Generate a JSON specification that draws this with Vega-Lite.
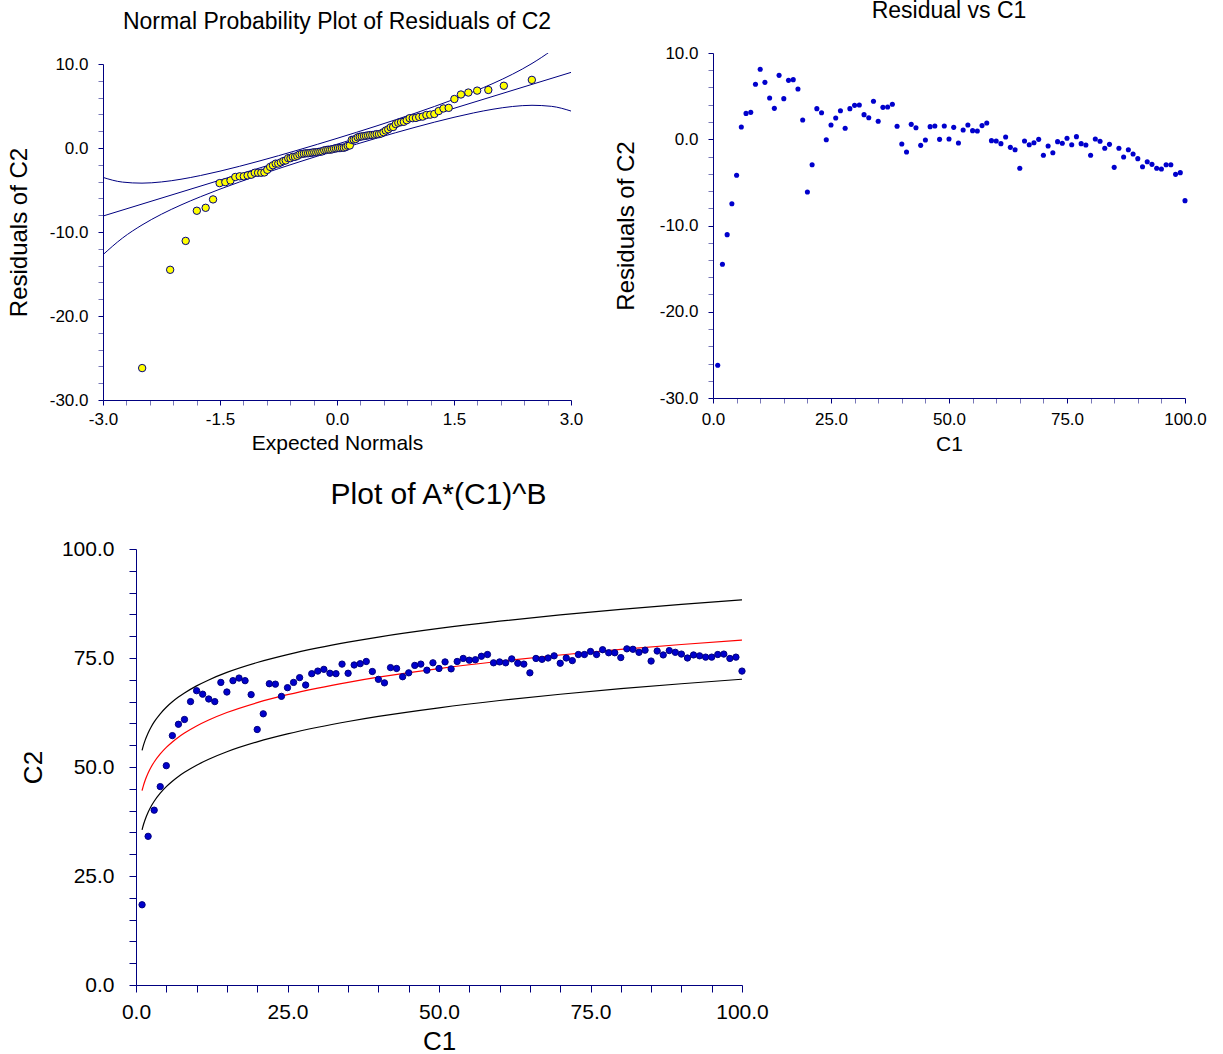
{
  "$schema": "https://vega.github.io/schema/vega-lite/v6.json",
  "padding": {"left": 7, "top": 0, "right": 5, "bottom": 0},
  "background": "white",
  "config": {
    "view": {"stroke": null},
    "font": "Liberation Sans",
    "axis": {"grid": false, "domainColor": "#000080", "domainWidth": 1, "tickWidth": 1, "labelColor": "black", "titleColor": "black", "labelFont": "Liberation Sans", "titleFont": "Liberation Sans", "titleFontWeight": "normal", "labelOverlap": false, "labelFlush": false, "labelBound": false},
    "title": {"fontWeight": "normal", "font": "Liberation Sans", "color": "black", "frame": "group", "anchor": "middle"}
  },
  "datasets": {
    "resid": [
      {"C1":1,"C2":18.4,"res":-26.2},{"C1":2,"C2":34.1,"res":-14.5},{"C1":3,"C2":40.1,"res":-11.06},{"C1":4,"C2":45.5,"res":-7.47},{"C1":5,"C2":50.3,"res":-4.18},
      {"C1":6,"C2":57.2,"res":1.42},{"C1":7,"C2":59.8,"res":3.0},{"C1":8,"C2":60.9,"res":3.12},{"C1":9,"C2":65.0,"res":6.37},{"C1":10,"C2":67.5,"res":8.11},
      {"C1":11,"C2":66.7,"res":6.6},{"C1":12,"C2":65.6,"res":4.78},{"C1":13,"C2":65.0,"res":3.58},{"C1":14,"C2":69.4,"res":7.41},{"C1":15,"C2":67.2,"res":4.71},
      {"C1":16,"C2":69.8,"res":6.83},{"C1":17,"C2":70.4,"res":6.91},{"C1":18,"C2":69.8,"res":5.83},{"C1":19,"C2":66.6,"res":2.23},{"C1":20,"C2":58.6,"res":-6.12},
      {"C1":21,"C2":62.2,"res":-2.95},{"C1":22,"C2":69.1,"res":3.55},{"C1":23,"C2":69.0,"res":3.08},{"C1":24,"C2":66.2,"res":-0.05},{"C1":25,"C2":68.2,"res":1.65},
      {"C1":26,"C2":69.4,"res":2.46},{"C1":27,"C2":70.5,"res":3.31},{"C1":28,"C2":68.8,"res":1.27},{"C1":29,"C2":71.4,"res":3.55},{"C1":30,"C2":72.0,"res":3.93},
      {"C1":31,"C2":72.4,"res":3.97},{"C1":32,"C2":71.5,"res":2.85},{"C1":33,"C2":71.4,"res":2.5},{"C1":34,"C2":73.6,"res":4.4},{"C1":35,"C2":71.5,"res":2.08},
      {"C1":36,"C2":73.4,"res":3.7},{"C1":37,"C2":73.7,"res":3.74},{"C1":38,"C2":74.2,"res":4.05},{"C1":39,"C2":71.9,"res":1.5},{"C1":40,"C2":70.1,"res":-0.55},
      {"C1":41,"C2":69.3,"res":-1.48},{"C1":42,"C2":72.8,"res":1.73},{"C1":43,"C2":72.6,"res":1.34},{"C1":44,"C2":70.7,"res":-0.71},{"C1":45,"C2":71.6,"res":-0.09},
      {"C1":46,"C2":73.3,"res":1.46},{"C1":47,"C2":73.6,"res":1.54},{"C1":48,"C2":72.2,"res":-0.01},{"C1":49,"C2":73.9,"res":1.54},{"C1":50,"C2":72.6,"res":0.03},
      {"C1":51,"C2":74.1,"res":1.38},{"C1":52,"C2":72.5,"res":-0.43},{"C1":53,"C2":74.2,"res":1.07},{"C1":54,"C2":74.9,"res":1.65},{"C1":55,"C2":74.5,"res":1.0},
      {"C1":56,"C2":74.6,"res":0.96},{"C1":57,"C2":75.4,"res":1.58},{"C1":58,"C2":75.8,"res":1.88},{"C1":59,"C2":73.9,"res":-0.16},{"C1":60,"C2":74.1,"res":-0.2},
      {"C1":61,"C2":73.9,"res":-0.51},{"C1":62,"C2":74.8,"res":0.26},{"C1":63,"C2":73.8,"res":-0.94},{"C1":64,"C2":73.6,"res":-1.21},{"C1":65,"C2":71.6,"res":-3.37},
      {"C1":66,"C2":74.9,"res":-0.2},{"C1":67,"C2":74.7,"res":-0.63},{"C1":68,"C2":75.0,"res":-0.4},{"C1":69,"C2":75.5,"res":-0.01},{"C1":70,"C2":73.8,"res":-1.86},
      {"C1":71,"C2":75.0,"res":-0.78},{"C1":72,"C2":74.4,"res":-1.56},{"C1":73,"C2":75.8,"res":-0.28},{"C1":74,"C2":75.8,"res":-0.47},{"C1":75,"C2":76.5,"res":0.11},
      {"C1":76,"C2":75.8,"res":-0.63},{"C1":77,"C2":76.9,"res":0.3},{"C1":78,"C2":76.2,"res":-0.51},{"C1":79,"C2":76.2,"res":-0.67},{"C1":80,"C2":75.1,"res":-1.86},
      {"C1":81,"C2":77.1,"res":0.03},{"C1":82,"C2":77.0,"res":-0.24},{"C1":83,"C2":76.3,"res":-1.05},{"C1":84,"C2":76.8,"res":-0.59},{"C1":85,"C2":74.3,"res":-3.26},
      {"C1":86,"C2":76.6,"res":-1.05},{"C1":87,"C2":75.7,"res":-2.06},{"C1":88,"C2":76.7,"res":-1.21},{"C1":89,"C2":76.3,"res":-1.71},{"C1":90,"C2":75.9,"res":-2.25},
      {"C1":91,"C2":75.0,"res":-3.18},{"C1":92,"C2":75.7,"res":-2.6},{"C1":93,"C2":75.5,"res":-2.91},{"C1":94,"C2":75.2,"res":-3.37},{"C1":95,"C2":75.2,"res":-3.45},
      {"C1":96,"C2":75.8,"res":-2.95},{"C1":97,"C2":75.9,"res":-2.95},{"C1":98,"C2":74.9,"res":-4.07},{"C1":99,"C2":75.2,"res":-3.87},{"C1":100,"C2":72.0,"res":-7.12}
    ],
    "npp": [
      {"z":-2.498,"v":-26.2},{"z":-2.139,"v":-14.5},{"z":-1.94,"v":-11.06},{"z":-1.797,"v":-7.47},{"z":-1.684,"v":-7.12},
      {"z":-1.589,"v":-6.12},{"z":-1.505,"v":-4.18},{"z":-1.432,"v":-4.07},{"z":-1.365,"v":-3.87},{"z":-1.304,"v":-3.45},
      {"z":-1.248,"v":-3.37},{"z":-1.195,"v":-3.37},{"z":-1.146,"v":-3.26},{"z":-1.099,"v":-3.18},{"z":-1.054,"v":-2.95},
      {"z":-1.012,"v":-2.95},{"z":-0.971,"v":-2.95},{"z":-0.931,"v":-2.91},{"z":-0.894,"v":-2.6},{"z":-0.857,"v":-2.25},
      {"z":-0.821,"v":-2.06},{"z":-0.786,"v":-1.86},{"z":-0.753,"v":-1.86},{"z":-0.72,"v":-1.71},{"z":-0.688,"v":-1.56},
      {"z":-0.657,"v":-1.48},{"z":-0.626,"v":-1.21},{"z":-0.596,"v":-1.21},{"z":-0.567,"v":-1.05},{"z":-0.538,"v":-1.05},
      {"z":-0.509,"v":-0.94},{"z":-0.481,"v":-0.78},{"z":-0.453,"v":-0.71},{"z":-0.425,"v":-0.67},{"z":-0.398,"v":-0.63},
      {"z":-0.371,"v":-0.63},{"z":-0.345,"v":-0.59},{"z":-0.318,"v":-0.55},{"z":-0.292,"v":-0.51},{"z":-0.266,"v":-0.51},
      {"z":-0.24,"v":-0.47},{"z":-0.214,"v":-0.43},{"z":-0.189,"v":-0.4},{"z":-0.164,"v":-0.28},{"z":-0.138,"v":-0.24},
      {"z":-0.113,"v":-0.2},{"z":-0.088,"v":-0.2},{"z":-0.063,"v":-0.16},{"z":-0.038,"v":-0.09},{"z":-0.013,"v":-0.05},
      {"z":0.013,"v":-0.01},{"z":0.038,"v":-0.01},{"z":0.063,"v":0.03},{"z":0.088,"v":0.03},{"z":0.113,"v":0.11},
      {"z":0.138,"v":0.26},{"z":0.164,"v":0.3},{"z":0.189,"v":0.96},{"z":0.214,"v":1.0},{"z":0.24,"v":1.07},
      {"z":0.266,"v":1.27},{"z":0.292,"v":1.34},{"z":0.318,"v":1.38},{"z":0.345,"v":1.42},{"z":0.371,"v":1.46},
      {"z":0.398,"v":1.5},{"z":0.425,"v":1.54},{"z":0.453,"v":1.54},{"z":0.481,"v":1.58},{"z":0.509,"v":1.65},
      {"z":0.538,"v":1.65},{"z":0.567,"v":1.73},{"z":0.596,"v":1.88},{"z":0.626,"v":2.08},{"z":0.657,"v":2.23},
      {"z":0.688,"v":2.46},{"z":0.72,"v":2.5},{"z":0.753,"v":2.85},{"z":0.786,"v":3.0},{"z":0.821,"v":3.08},
      {"z":0.857,"v":3.12},{"z":0.894,"v":3.31},{"z":0.931,"v":3.55},{"z":0.971,"v":3.55},{"z":1.012,"v":3.58},
      {"z":1.054,"v":3.7},{"z":1.099,"v":3.74},{"z":1.146,"v":3.93},{"z":1.195,"v":3.97},{"z":1.248,"v":4.05},
      {"z":1.304,"v":4.4},{"z":1.365,"v":4.71},{"z":1.432,"v":4.78},{"z":1.505,"v":5.83},{"z":1.589,"v":6.37},
      {"z":1.684,"v":6.6},{"z":1.797,"v":6.83},{"z":1.94,"v":6.91},{"z":2.139,"v":7.41},{"z":2.498,"v":8.11}
    ],
    "nband": [
      {"z":-3,"k":"hi","v":-3.5},{"z":-2.75,"k":"hi","v":-4.06},{"z":-2.5,"k":"hi","v":-4.185},{"z":-2.25,"k":"hi","v":-4.04},{"z":-2,"k":"hi","v":-3.717},
      {"z":-1.75,"k":"hi","v":-3.276},{"z":-1.5,"k":"hi","v":-2.755},{"z":-1.25,"k":"hi","v":-2.179},{"z":-1,"k":"hi","v":-1.562},{"z":-0.75,"k":"hi","v":-0.916},
      {"z":-0.5,"k":"hi","v":-0.247},{"z":-0.25,"k":"hi","v":0.441},{"z":0,"k":"hi","v":1.146},{"z":0.25,"k":"hi","v":1.866},{"z":0.5,"k":"hi","v":2.603},
      {"z":0.75,"k":"hi","v":3.359},{"z":1,"k":"hi","v":4.138},{"z":1.25,"k":"hi","v":4.947},{"z":1.5,"k":"hi","v":5.795},{"z":1.75,"k":"hi","v":6.7},
      {"z":2,"k":"hi","v":7.683},{"z":2.25,"k":"hi","v":8.784},{"z":2.5,"k":"hi","v":10.065},{"z":2.75,"k":"hi","v":11.62},{"z":3,"k":"hi","v":13.6},
      {"z":-3,"k":"lo","v":-12.7},{"z":-2.75,"k":"lo","v":-10.72},{"z":-2.5,"k":"lo","v":-9.165},{"z":-2.25,"k":"lo","v":-7.88},{"z":-2,"k":"lo","v":-6.783},
      {"z":-1.75,"k":"lo","v":-5.8},{"z":-1.5,"k":"lo","v":-4.895},{"z":-1.25,"k":"lo","v":-4.047},{"z":-1,"k":"lo","v":-3.238},{"z":-0.75,"k":"lo","v":-2.459},
      {"z":-0.5,"k":"lo","v":-1.703},{"z":-0.25,"k":"lo","v":-0.966},{"z":0,"k":"lo","v":-0.246},{"z":0.25,"k":"lo","v":0.459},{"z":0.5,"k":"lo","v":1.147},
      {"z":0.75,"k":"lo","v":1.816},{"z":1,"k":"lo","v":2.462},{"z":1.25,"k":"lo","v":3.079},{"z":1.5,"k":"lo","v":3.655},{"z":1.75,"k":"lo","v":4.176},
      {"z":2,"k":"lo","v":4.617},{"z":2.25,"k":"lo","v":4.942},{"z":2.5,"k":"lo","v":5.085},{"z":2.75,"k":"lo","v":4.96},{"z":3,"k":"lo","v":4.4},
      {"z":-3,"k":"ln","v":-8.1},{"z":3,"k":"ln","v":9.0}
    ],
    "fitc": [
      {"C1":1,"k":"fit","C2":44.6},{"C1":1.25,"k":"fit","C2":45.86},{"C1":1.5,"k":"fit","C2":46.91},{"C1":2,"k":"fit","C2":48.62},{"C1":2.5,"k":"fit","C2":49.99},
      {"C1":3,"k":"fit","C2":51.14},{"C1":4,"k":"fit","C2":53.0},{"C1":5,"k":"fit","C2":54.5},{"C1":6,"k":"fit","C2":55.75},{"C1":7,"k":"fit","C2":56.83},
      {"C1":8,"k":"fit","C2":57.78},{"C1":10,"k":"fit","C2":59.41},{"C1":12,"k":"fit","C2":60.77},{"C1":15,"k":"fit","C2":62.49},{"C1":20,"k":"fit","C2":64.76},
      {"C1":25,"k":"fit","C2":66.59},{"C1":30,"k":"fit","C2":68.11},{"C1":35,"k":"fit","C2":69.43},{"C1":40,"k":"fit","C2":70.6},{"C1":50,"k":"fit","C2":72.58},
      {"C1":60,"k":"fit","C2":74.25},{"C1":70,"k":"fit","C2":75.69},{"C1":80,"k":"fit","C2":76.97},{"C1":90,"k":"fit","C2":78.1},{"C1":100,"k":"fit","C2":79.13},
      {"C1":1,"k":"hi","C2":53.8},{"C1":1.25,"k":"hi","C2":55.06},{"C1":1.5,"k":"hi","C2":56.11},{"C1":2,"k":"hi","C2":57.82},{"C1":2.5,"k":"hi","C2":59.19},
      {"C1":3,"k":"hi","C2":60.34},{"C1":4,"k":"hi","C2":62.2},{"C1":5,"k":"hi","C2":63.7},{"C1":6,"k":"hi","C2":64.95},{"C1":7,"k":"hi","C2":66.03},
      {"C1":8,"k":"hi","C2":66.98},{"C1":10,"k":"hi","C2":68.61},{"C1":12,"k":"hi","C2":69.97},{"C1":15,"k":"hi","C2":71.69},{"C1":20,"k":"hi","C2":73.96},
      {"C1":25,"k":"hi","C2":75.79},{"C1":30,"k":"hi","C2":77.31},{"C1":35,"k":"hi","C2":78.63},{"C1":40,"k":"hi","C2":79.8},{"C1":50,"k":"hi","C2":81.78},
      {"C1":60,"k":"hi","C2":83.45},{"C1":70,"k":"hi","C2":84.89},{"C1":80,"k":"hi","C2":86.17},{"C1":90,"k":"hi","C2":87.3},{"C1":100,"k":"hi","C2":88.33},
      {"C1":1,"k":"lo","C2":35.6},{"C1":1.25,"k":"lo","C2":36.86},{"C1":1.5,"k":"lo","C2":37.91},{"C1":2,"k":"lo","C2":39.62},{"C1":2.5,"k":"lo","C2":40.99},
      {"C1":3,"k":"lo","C2":42.14},{"C1":4,"k":"lo","C2":44.0},{"C1":5,"k":"lo","C2":45.5},{"C1":6,"k":"lo","C2":46.75},{"C1":7,"k":"lo","C2":47.83},
      {"C1":8,"k":"lo","C2":48.78},{"C1":10,"k":"lo","C2":50.41},{"C1":12,"k":"lo","C2":51.77},{"C1":15,"k":"lo","C2":53.49},{"C1":20,"k":"lo","C2":55.76},
      {"C1":25,"k":"lo","C2":57.59},{"C1":30,"k":"lo","C2":59.11},{"C1":35,"k":"lo","C2":60.43},{"C1":40,"k":"lo","C2":61.6},{"C1":50,"k":"lo","C2":63.58},
      {"C1":60,"k":"lo","C2":65.25},{"C1":70,"k":"lo","C2":66.69},{"C1":80,"k":"lo","C2":67.97},{"C1":90,"k":"lo","C2":69.1},{"C1":100,"k":"lo","C2":70.13}
    ]
  },
  "spacing": 26,
  "vconcat": [
    {
      "spacing": 31,
      "hconcat": [
        {
          "width": 468, "height": 347,
          "title": {"text": "Normal Probability Plot of Residuals of C2", "fontSize": 23, "offset": 19},
          "encoding": {
            "x": {"field": "z", "type": "quantitative", "title": "Expected Normals",
              "scale": {"domain": [-3, 3], "nice": false, "zero": false},
              "axis": {"values": [-3,-2.7,-2.4,-2.1,-1.8,-1.5,-1.2,-0.9,-0.6,-0.3,0,0.3,0.6,0.9,1.2,1.5,1.8,2.1,2.4,2.7,3],
                "labelExpr": "indexof([-3,-1.5,0,1.5,3], datum.value) >= 0 ? replace(format(datum.value, '.1f'), '−', '-') : ''",
                "tickColor": {"condition": {"test": "indexof([-3,-1.5,0,1.5,3], datum.value) >= 0", "value": "#000080"}, "value": "#7878B8"},
                "tickSize": 5, "labelFontSize": 17, "labelPadding": 6, "titleFontSize": 21, "titlePadding": 5}},
            "y": {"field": "v", "type": "quantitative", "title": "Residuals of C2",
              "scale": {"domain": [-30, 10], "nice": false, "zero": false, "range": [347, 11]},
              "axis": {"values": [-30,-28,-26,-24,-22,-20,-18,-16,-14,-12,-10,-8,-6,-4,-2,0,2,4,6,8,10],
                "labelExpr": "datum.value % 10 == 0 ? replace(format(datum.value, '.1f'), '−', '-') : ''",
                "tickColor": {"condition": {"test": "datum.value % 10 == 0", "value": "#000080"}, "value": "#7878B8"},
                "tickSize": 5, "labelFontSize": 17, "labelPadding": 10, "titleFontSize": 24, "titlePadding": 18}}
          },
          "layer": [
            {"data": {"name": "nband"}, "mark": {"type": "line", "color": "#000080", "strokeWidth": 1, "clip": true, "interpolate": "monotone"},
             "encoding": {"detail": {"field": "k"}}},
            {"data": {"name": "npp"}, "mark": {"type": "point", "shape": "circle", "filled": true, "fill": "#FFFF00", "stroke": "#000080", "strokeWidth": 1, "opacity": 1, "size": 55}}
          ]
        },
        {
          "width": 472, "height": 345,
          "title": {"text": "Residual vs C1", "fontSize": 23, "offset": 21},
          "data": {"name": "resid"},
          "mark": {"type": "point", "shape": "circle", "filled": true, "color": "#0000CC", "opacity": 1, "size": 26},
          "encoding": {
            "x": {"field": "C1", "type": "quantitative", "title": "C1",
              "scale": {"domain": [0, 100], "nice": false, "zero": false},
              "axis": {"values": [0,5,10,15,20,25,30,35,40,45,50,55,60,65,70,75,80,85,90,95,100],
                "labelExpr": "datum.value % 25 == 0 ? format(datum.value, '.1f') : ''",
                "tickColor": {"condition": {"test": "datum.value % 25 == 0", "value": "#000080"}, "value": "#7878B8"},
                "tickSize": 5, "labelFontSize": 17, "labelPadding": 8, "titleFontSize": 21, "titlePadding": 6}},
            "y": {"field": "res", "type": "quantitative", "title": "Residuals of C2",
              "scale": {"domain": [-30, 10], "nice": false, "zero": false},
              "axis": {"values": [-30,-28,-26,-24,-22,-20,-18,-16,-14,-12,-10,-8,-6,-4,-2,0,2,4,6,8,10],
                "labelExpr": "datum.value % 10 == 0 ? replace(format(datum.value, '.1f'), '−', '-') : ''",
                "tickColor": {"condition": {"test": "datum.value % 10 == 0", "value": "#000080"}, "value": "#7878B8"},
                "tickSize": 5, "labelFontSize": 17, "labelPadding": 10, "titleFontSize": 24, "titlePadding": 21}}
          }
        }
      ]
    },
    {
      "width": 639, "height": 436,
      "title": {"text": "Plot of A*(C1)^B", "fontSize": 30, "offset": 28, "dx": 16},
      "encoding": {
        "x": {"field": "C1", "type": "quantitative", "title": "C1",
          "scale": {"domain": [0, 100], "nice": false, "zero": false, "range": [33, 639]},
          "axis": {"values": [0,5,10,15,20,25,30,35,40,45,50,55,60,65,70,75,80,85,90,95,100],
            "labelExpr": "datum.value % 25 == 0 ? format(datum.value, '.1f') : ''",
            "tickColor": "#000080", "tickSize": 7, "labelFontSize": 21, "labelPadding": 9, "titleFontSize": 26, "titlePadding": 6}},
        "y": {"field": "C2", "type": "quantitative", "title": "C2",
          "scale": {"domain": [0, 100], "nice": false, "zero": false},
          "axis": {"offset": -33, "values": [0,5,10,15,20,25,30,35,40,45,50,55,60,65,70,75,80,85,90,95,100],
            "labelExpr": "datum.value % 25 == 0 ? format(datum.value, '.1f') : ''",
            "tickColor": "#000080", "tickSize": 7, "labelFontSize": 21, "labelPadding": 15, "titleFontSize": 26, "titlePadding": 15}}
      },
      "layer": [
        {"data": {"name": "fitc"}, "mark": {"type": "line", "strokeWidth": 1.2, "interpolate": "monotone"},
         "encoding": {"detail": {"field": "k"}, "color": {"field": "k", "type": "nominal", "scale": {"domain": ["fit", "hi", "lo"], "range": ["#FF0000", "#000000", "#000000"]}, "legend": null}}},
        {"data": {"name": "resid"}, "mark": {"type": "point", "shape": "circle", "filled": true, "fill": "#0000CC", "stroke": "#000080", "strokeWidth": 1, "opacity": 1, "size": 40}}
      ]
    }
  ]
}
